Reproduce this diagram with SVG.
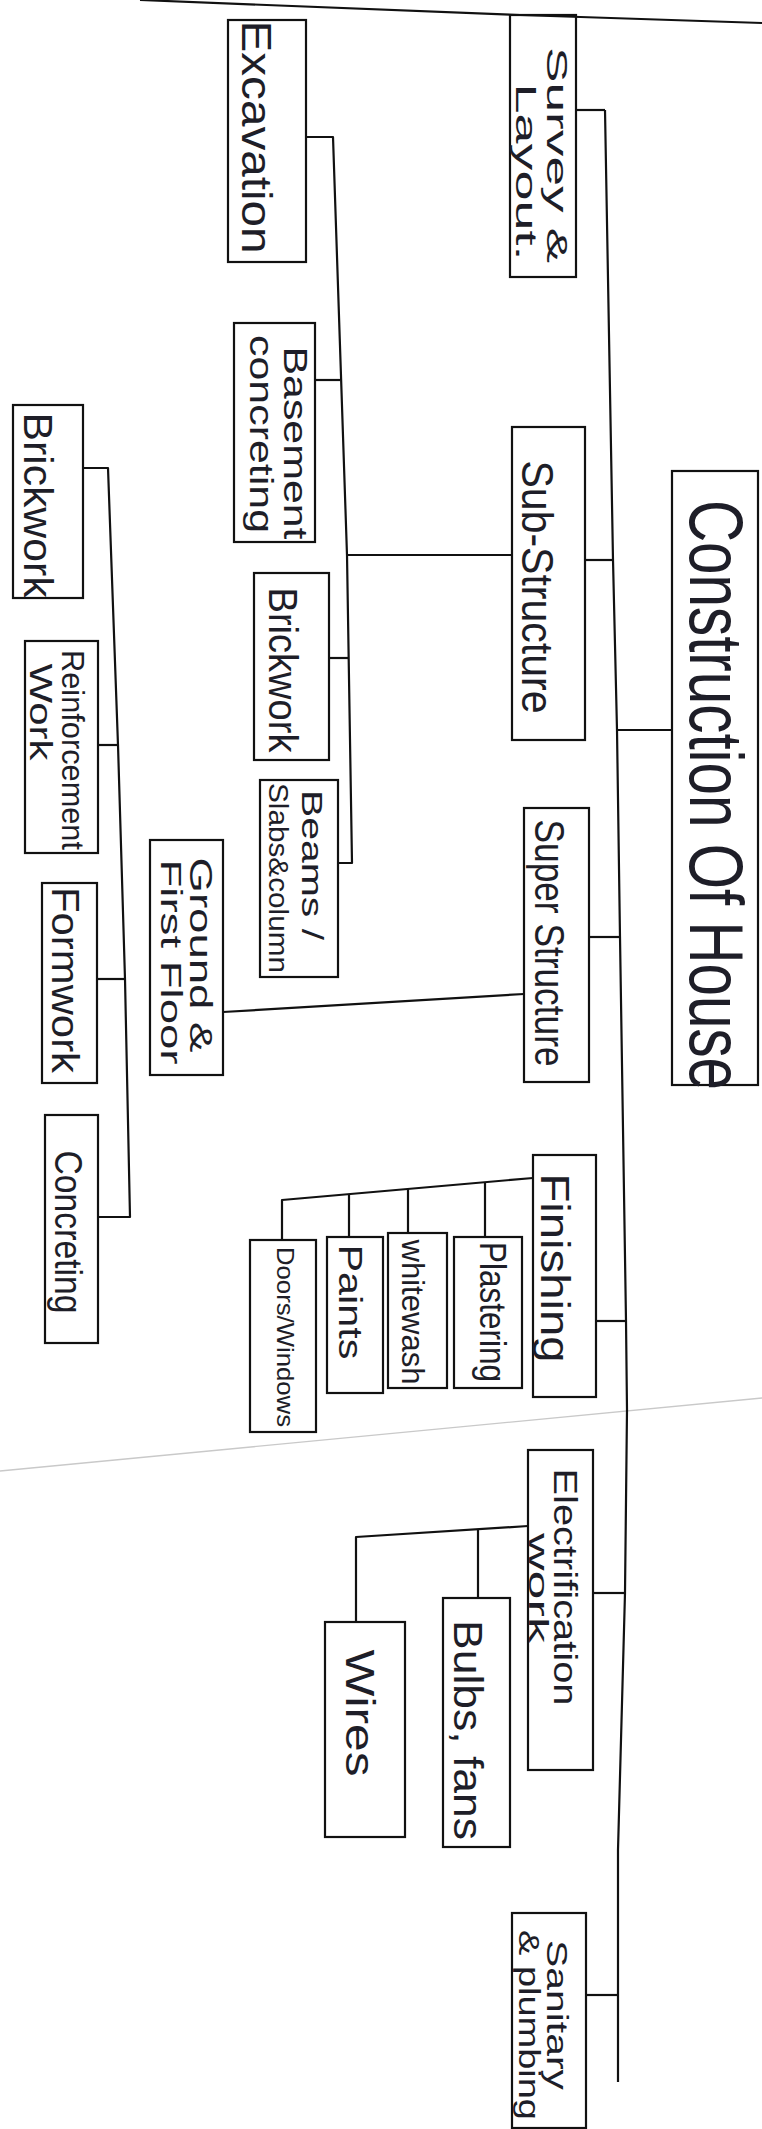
<svg xmlns="http://www.w3.org/2000/svg" width="762" height="2129" viewBox="0 0 762 2129">
<style>
.box{fill:none;stroke:#111;stroke-width:2.2}
.c{fill:none;stroke:#111;stroke-width:2.2;stroke-linejoin:round}
.t{font-family:"Liberation Sans",Arial,sans-serif;fill:#1e1e28;text-anchor:middle;dominant-baseline:central}
.fold{fill:none;stroke:#c9c9c9;stroke-width:1.3}
</style>
<rect width="762" height="2129" fill="#ffffff"/>
<path class="fold" d="M0 1471 L762 1398"/>
<g id="connectors">
<path class="c" d="M140 0 L520 15 L762 23"/>
<path class="c" d="M605 110 L613 560 L617 730 L620 937 L626 1321 L627 1410 L625 1593 L618 1850 L618 2082"/>
<path class="c" d="M576 110 H605"/>
<path class="c" d="M585 560 H613"/>
<path class="c" d="M617 730 H672"/>
<path class="c" d="M589 937 H620"/>
<path class="c" d="M596 1321 H626"/>
<path class="c" d="M593 1593 H625"/>
<path class="c" d="M586 1995 H618"/>
<path class="c" d="M306 137 H333 L347 555 L352 863 H338"/>
<path class="c" d="M315 380 H340"/>
<path class="c" d="M347 555 H512"/>
<path class="c" d="M329 658 H349"/>
<path class="c" d="M524 994 L223 1012"/>
<path class="c" d="M83 468 H108 L118 745 L125 979 L130 1217 H98"/>
<path class="c" d="M98 745 H118"/>
<path class="c" d="M97 979 H125"/>
<path class="c" d="M533 1178 L282 1200 V1240"/>
<path class="c" d="M485 1182 V1237"/>
<path class="c" d="M408 1189 V1233"/>
<path class="c" d="M349 1194 V1237"/>
<path class="c" d="M528 1526 L356 1537 V1622"/>
<path class="c" d="M478 1529 V1598"/>
</g>
<g id="construction">
<rect class="box" x="672" y="471" width="86" height="614"/>
<text class="t" x="716" y="795" transform="rotate(90 716 795)" font-size="76" textLength="590" lengthAdjust="spacingAndGlyphs">Construction Of House</text>
</g>
<g id="survey">
<rect class="box" x="510" y="15" width="66" height="262"/>
<text class="t" x="557" y="155" transform="rotate(90 557 155)" font-size="30" textLength="216" lengthAdjust="spacingAndGlyphs">Survey &amp;</text>
<text class="t" x="526" y="172" transform="rotate(90 526 172)" font-size="30" textLength="177" lengthAdjust="spacingAndGlyphs">Layout.</text>
</g>
<g id="excavation">
<rect class="box" x="228" y="20" width="78" height="242"/>
<text class="t" x="256" y="137" transform="rotate(90 256 137)" font-size="42" textLength="233" lengthAdjust="spacingAndGlyphs">Excavation</text>
</g>
<g id="sub-structure">
<rect class="box" x="512" y="427" width="73" height="313"/>
<text class="t" x="537" y="587" transform="rotate(90 537 587)" font-size="44" textLength="253" lengthAdjust="spacingAndGlyphs">Sub-Structure</text>
</g>
<g id="basement-concreting">
<rect class="box" x="234" y="323" width="81" height="219"/>
<text class="t" x="296" y="443" transform="rotate(90 296 443)" font-size="34" textLength="193" lengthAdjust="spacingAndGlyphs">Basement</text>
<text class="t" x="262" y="434" transform="rotate(90 262 434)" font-size="34" textLength="198" lengthAdjust="spacingAndGlyphs">concreting</text>
</g>
<g id="brickwork-sub">
<rect class="box" x="254" y="573" width="75" height="187"/>
<text class="t" x="283" y="670" transform="rotate(90 283 670)" font-size="40" textLength="165" lengthAdjust="spacingAndGlyphs">Brickwork</text>
</g>
<g id="beams-slabs-column">
<rect class="box" x="260" y="780" width="78" height="197"/>
<text class="t" x="312" y="865" transform="rotate(90 312 865)" font-size="30" textLength="150" lengthAdjust="spacingAndGlyphs">Beams /</text>
<text class="t" x="278" y="878" transform="rotate(90 278 878)" font-size="28" textLength="190" lengthAdjust="spacingAndGlyphs">Slabs&amp;column</text>
</g>
<g id="super-structure">
<rect class="box" x="524" y="808" width="65" height="274"/>
<text class="t" x="549" y="943" transform="rotate(90 549 943)" font-size="42" textLength="247" lengthAdjust="spacingAndGlyphs">Super Structure</text>
</g>
<g id="ground-first-floor">
<rect class="box" x="150" y="840" width="73" height="235"/>
<text class="t" x="201" y="955" transform="rotate(90 201 955)" font-size="32" textLength="195" lengthAdjust="spacingAndGlyphs">Ground &amp;</text>
<text class="t" x="171" y="962" transform="rotate(90 171 962)" font-size="30" textLength="205" lengthAdjust="spacingAndGlyphs">First Floor</text>
</g>
<g id="brickwork">
<rect class="box" x="13" y="405" width="70" height="193"/>
<text class="t" x="38" y="505" transform="rotate(90 38 505)" font-size="40" textLength="185" lengthAdjust="spacingAndGlyphs">Brickwork</text>
</g>
<g id="reinforcement-work">
<rect class="box" x="25" y="641" width="73" height="212"/>
<text class="t" x="73" y="750" transform="rotate(90 73 750)" font-size="32" textLength="200" lengthAdjust="spacingAndGlyphs">Reinforcement</text>
<text class="t" x="41" y="712" transform="rotate(90 41 712)" font-size="32" textLength="97" lengthAdjust="spacingAndGlyphs">Work</text>
</g>
<g id="formwork">
<rect class="box" x="42" y="883" width="55" height="200"/>
<text class="t" x="65" y="980" transform="rotate(90 65 980)" font-size="38" textLength="186" lengthAdjust="spacingAndGlyphs">Formwork</text>
</g>
<g id="concreting">
<rect class="box" x="45" y="1115" width="53" height="228"/>
<text class="t" x="68" y="1232" transform="rotate(90 68 1232)" font-size="38" textLength="163" lengthAdjust="spacingAndGlyphs">Concreting</text>
</g>
<g id="finishing">
<rect class="box" x="533" y="1155" width="63" height="242"/>
<text class="t" x="555" y="1268" transform="rotate(90 555 1268)" font-size="40" textLength="189" lengthAdjust="spacingAndGlyphs">Finishing</text>
</g>
<g id="plastering">
<rect class="box" x="454" y="1237" width="68" height="151"/>
<text class="t" x="492" y="1312" transform="rotate(90 492 1312)" font-size="36" textLength="140" lengthAdjust="spacingAndGlyphs">Plastering</text>
</g>
<g id="whitewash">
<rect class="box" x="388" y="1233" width="59" height="155"/>
<text class="t" x="413" y="1312" transform="rotate(90 413 1312)" font-size="32" textLength="145" lengthAdjust="spacingAndGlyphs">whitewash</text>
</g>
<g id="paints">
<rect class="box" x="327" y="1237" width="56" height="156"/>
<text class="t" x="351" y="1302" transform="rotate(90 351 1302)" font-size="34" textLength="115" lengthAdjust="spacingAndGlyphs">Paints</text>
</g>
<g id="doors-windows">
<rect class="box" x="250" y="1240" width="66" height="192"/>
<text class="t" x="285" y="1337" transform="rotate(90 285 1337)" font-size="24" textLength="180" lengthAdjust="spacingAndGlyphs">Doors/Windows</text>
</g>
<g id="electrification-work">
<rect class="box" x="528" y="1450" width="65" height="320"/>
<text class="t" x="566" y="1587" transform="rotate(90 566 1587)" font-size="34" textLength="237" lengthAdjust="spacingAndGlyphs">Electrification</text>
<text class="t" x="538" y="1588" transform="rotate(90 538 1588)" font-size="28" textLength="110" lengthAdjust="spacingAndGlyphs">work</text>
</g>
<g id="bulbs-fans">
<rect class="box" x="443" y="1598" width="67" height="249"/>
<text class="t" x="468" y="1730" transform="rotate(90 468 1730)" font-size="40" textLength="220" lengthAdjust="spacingAndGlyphs">Bulbs, fans</text>
</g>
<g id="wires">
<rect class="box" x="325" y="1622" width="80" height="215"/>
<text class="t" x="360" y="1713" transform="rotate(90 360 1713)" font-size="40" textLength="127" lengthAdjust="spacingAndGlyphs">Wires</text>
</g>
<g id="sanitary-plumbing">
<rect class="box" x="512" y="1913" width="74" height="215"/>
<text class="t" x="557" y="2015" transform="rotate(90 557 2015)" font-size="30" textLength="150" lengthAdjust="spacingAndGlyphs">Sanitary</text>
<text class="t" x="529" y="2025" transform="rotate(90 529 2025)" font-size="30" textLength="190" lengthAdjust="spacingAndGlyphs">&amp; plumbing</text>
</g>
</svg>
